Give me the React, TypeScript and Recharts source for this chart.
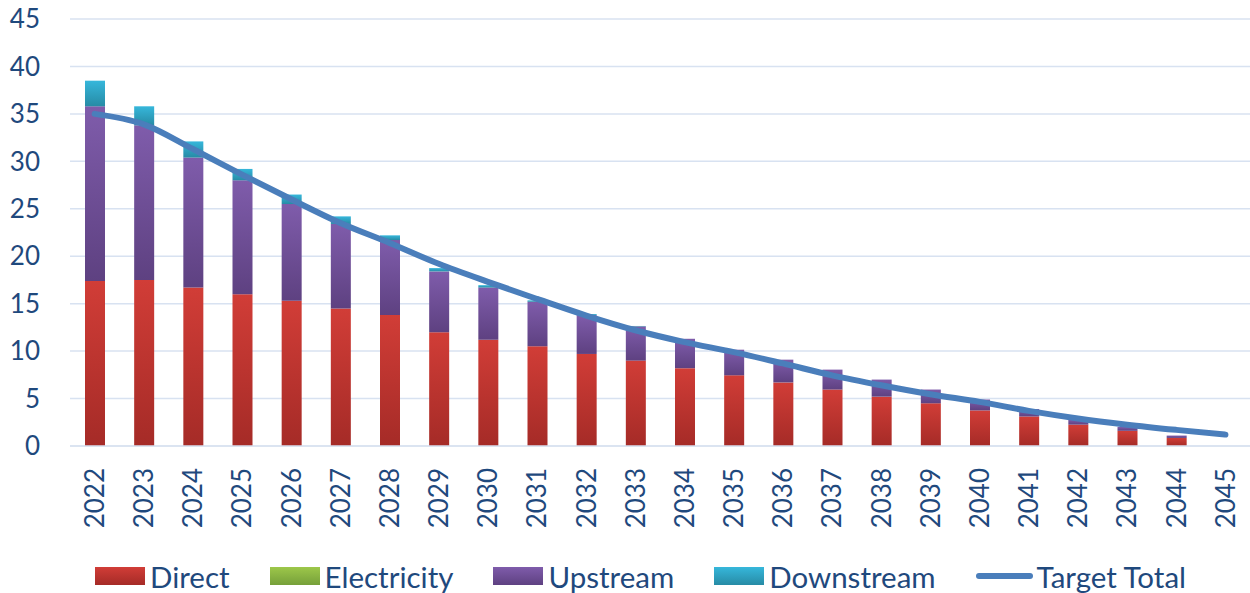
import { ComposedChart, Bar, Line, XAxis, YAxis, CartesianGrid, Legend } from 'recharts';

const years = ['2022', '2023', '2024', '2025', '2026', '2027', '2028', '2029', '2030', '2031', '2032', '2033',
  '2034', '2035', '2036', '2037', '2038', '2039', '2040', '2041', '2042', '2043', '2044', '2045'];
const direct = [17.4, 17.5, 16.7, 16.0, 15.3, 14.5, 13.8, 12.0, 11.2, 10.5, 9.7, 9.0,
  8.2, 7.45, 6.7, 5.95, 5.2, 4.5, 3.75, 3.1, 2.25, 1.6, 0.85, 0];
const electricity = [0, 0, 0, 0, 0, 0, 0, 0, 0, 0, 0, 0, 0, 0, 0, 0, 0, 0, 0, 0, 0, 0, 0, 0];
const upstream = [18.4, 16.3, 13.7, 12.0, 10.2, 8.9, 7.9, 6.4, 5.5, 4.7, 4.1, 3.6,
  3.1, 2.7, 2.4, 2.1, 1.8, 1.45, 1.15, 0.8, 0.55, 0.4, 0.25, 0];
const downstream = [2.7, 2.0, 1.7, 1.2, 1.0, 0.8, 0.5, 0.35, 0.25, 0.15, 0.1, 0.05,
  0, 0, 0, 0, 0, 0, 0, 0, 0, 0, 0, 0];
const targetTotal = [35.0, 33.9, 31.3, 28.6, 26.0, 23.5, 21.4, 19.2, 17.3, 15.5, 13.75, 12.2,
  10.95, 9.9, 8.7, 7.45, 6.4, 5.45, 4.65, 3.7, 2.9, 2.25, 1.7, 1.2];
const yTicks = [0, 5, 10, 15, 20, 25, 30, 35, 40, 45];

const data = years.map((year, i) => ({
  year,
  direct: direct[i],
  electricity: electricity[i],
  upstream: upstream[i],
  downstream: downstream[i],
  target: targetTotal[i],
}));

const textColor = '#1f497d';
const font = 'Lato, "Noto Sans", sans-serif';

const legendItems = [
  { name: 'Direct', fill: 'url(#gDirect)', top: '#d13d37', bottom: '#a52b27' },
  { name: 'Electricity', fill: 'url(#gElec)', top: '#9dc74a', bottom: '#76a03a' },
  { name: 'Upstream', fill: 'url(#gUp)', top: '#7f5cab', bottom: '#5e4181' },
  { name: 'Downstream', fill: 'url(#gDown)', top: '#36b7db', bottom: '#278ba5' },
];

function YearTick(props: any) {
  const { x, y, payload } = props;
  return (
    <text x={x} y={y} transform={`rotate(-90 ${x} ${y})`} textAnchor="end" dy="0.36em"
      fill={textColor} fontSize={26} fontFamily={font}>
      {payload.value}
    </text>
  );
}

function renderLegend() {
  return (
    <div style={{ display: 'flex', alignItems: 'center', height: 30, paddingLeft: 95, fontFamily: font, fontSize: 29.5, color: textColor }}>
      {legendItems.map((it) => (
        <div key={it.name} style={{ display: 'flex', alignItems: 'center', marginRight: 40 }}>
          <span style={{ display: 'inline-block', width: 50, height: 18, background: `linear-gradient(${it.top}, ${it.bottom})`, marginRight: 5 }} />
          <span>{it.name}</span>
        </div>
      ))}
      <div style={{ display: 'flex', alignItems: 'center' }}>
        <span style={{ display: 'inline-block', width: 57, height: 6, borderRadius: 3, background: '#4a7ebb', marginRight: 4 }} />
        <span>Target Total</span>
      </div>
    </div>
  );
}

export default function App() {
  return (
    <div style={{ position: 'absolute', left: 0, top: 0 }}>
      <ComposedChart width={1250} height={593} data={data} margin={{ top: 19, right: 0, left: 10, bottom: 2 }} barSize={20}>
        <defs>
          {legendItems.map((it, i) => (
            <linearGradient key={i} id={it.fill.slice(5, -1)} x1="0" y1="0" x2="0" y2="1">
              <stop offset="0%" stopColor={it.top} />
              <stop offset="100%" stopColor={it.bottom} />
            </linearGradient>
          ))}
        </defs>
        <CartesianGrid vertical={false} stroke="#d8e2f1" strokeWidth={1.5} />
        <XAxis dataKey="year" height={115} tick={<YearTick />} tickLine={false} tickSize={0} tickMargin={22}
          axisLine={{ stroke: '#d8e2f1', strokeWidth: 1.5 }} interval={0} />
        <YAxis width={60} domain={[0, 45]} ticks={yTicks} axisLine={false} tickLine={false} tickSize={0} tickMargin={30}
          tick={{ fill: textColor, fontSize: 26, fontFamily: font }} />
        <Bar dataKey="direct" stackId="a" fill="url(#gDirect)" isAnimationActive={false} />
        <Bar dataKey="electricity" stackId="a" fill="url(#gElec)" isAnimationActive={false} />
        <Bar dataKey="upstream" stackId="a" fill="url(#gUp)" isAnimationActive={false} />
        <Bar dataKey="downstream" stackId="a" fill="url(#gDown)" isAnimationActive={false} />
        <Line dataKey="target" type="monotone" stroke="#4a7ebb" strokeWidth={6} strokeLinecap="round" dot={false} activeDot={false} isAnimationActive={false} />
        <Legend verticalAlign="bottom" content={renderLegend} wrapperStyle={{ left: 0, width: 1250 }} />
      </ComposedChart>
    </div>
  );
}
